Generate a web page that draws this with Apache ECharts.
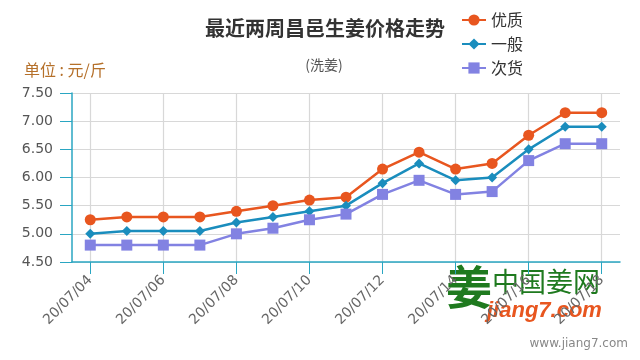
<!DOCTYPE html>
<html><head><meta charset="utf-8">
<script src="https://cdn.jsdelivr.net/npm/echarts@6/dist/echarts.min.js"></script>
<style>html,body{margin:0;padding:0;background:#fff}#c{width:640px;height:360px}</style>
</head><body><div id="c"></div>
<script>
var categories = ['20/07/04','20/07/05','20/07/06','20/07/07','20/07/08','20/07/09','20/07/10','20/07/11','20/07/12','20/07/13','20/07/14','20/07/15','20/07/16','20/07/17','20/07/18'];
var seriesNames = ['优质','一般','次货'];
var premium = [5.25,5.3,5.3,5.3,5.4,5.5,5.6,5.65,6.15,6.45,6.15,6.25,6.75,7.15,7.15];
var normal  = [5.0,5.05,5.05,5.05,5.2,5.3,5.4,5.5,5.9,6.25,5.95,6.0,6.5,6.9,6.9];
var inferior= [4.8,4.8,4.8,4.8,5.0,5.1,5.25,5.35,5.7,5.95,5.7,5.75,6.3,6.6,6.6];
var yMin = 4.5, yMax = 7.5, yStep = 0.5;

var teal = '#2aa6c2';
var chart = echarts.init(document.getElementById('c'), null, {renderer:'canvas'});
function mk(name, data, color, symbol, size){
  return {name:name, type:'line', data:data, symbol:symbol, symbolSize:size,
    lineStyle:{color:color, width:2.5}, itemStyle:{color:color}, animation:false};
}
chart.setOption({
  animation:false,
  title:[
    {text:'最近两周昌邑生姜价格走势', left:320, top:13, textAlign:'center',
     textStyle:{fontSize:20, fontWeight:'bold', color:'#333', fontFamily:'Noto Sans CJK SC'}},
    {text:'(洗姜)', left:319, top:53, textAlign:'center',
     textStyle:{fontSize:14, fontWeight:'normal', color:'#555', fontFamily:'Noto Sans CJK SC'}},
    {text:'单位 : 元/斤', left:19, top:57,
     textStyle:{fontSize:16, fontWeight:'normal', color:'#b5702a', fontFamily:'Noto Sans CJK SC'}}
  ],
  legend:{orient:'vertical', left:456, top:7, itemWidth:24, itemHeight:14, itemGap:8,
    textStyle:{fontSize:16, color:'#333', fontFamily:'Noto Sans CJK SC'}, data:seriesNames},
  grid:{left:72, right:20, top:93, bottom:98},
  xAxis:{type:'category', data:categories, boundaryGap:true,
    axisLine:{lineStyle:{color:teal, width:1.5}},
    axisTick:{show:true, interval:1, alignWithLabel:true, length:12, lineStyle:{color:teal}},
    axisLabel:{interval:1, rotate:45, fontSize:14, color:'#666', fontFamily:'DejaVu Sans', margin:16},
    splitLine:{show:true, interval:1, alignWithLabel:true, lineStyle:{color:'#d8d8d8', width:1.2}}},
  yAxis:{type:'value', min:yMin, max:yMax, interval:yStep,
    axisLine:{show:true, lineStyle:{color:teal, width:1.5}},
    axisTick:{show:true, length:12, lineStyle:{color:teal}},
    axisLabel:{fontSize:14, color:'#555', fontFamily:'DejaVu Sans', margin:19,
      formatter:function(v){return v.toFixed(2);}},
    splitLine:{show:true, lineStyle:{color:'#d8d8d8', width:1.2}}},
  series:[
    mk(seriesNames[0], premium, '#e8561f', 'circle', 11),
    mk(seriesNames[1], normal, '#1a8dbd', 'diamond', 10),
    mk(seriesNames[2], inferior, '#8282e2', 'rect', 11)
  ],
  graphic:[
    {type:'text', left:446, top:264, style:{text:'姜', fontSize:46, fontWeight:'bold', fill:'#1f7a1f', fontFamily:'Noto Sans CJK SC'}, silent:true},
    {type:'text', left:492, top:268, style:{text:'中国姜网', fontSize:27, fill:'#1f7a1f', fontFamily:'Noto Sans CJK SC'}, silent:true},
    {type:'text', left:487, top:300, style:{text:'jiang7.com', fontSize:22, fontWeight:'bold', fontStyle:'italic', fill:'#e8561f', fontFamily:'Liberation Sans'}, silent:true},
    {type:'text', right:12, top:338, style:{text:'www.jiang7.com', fontSize:12, fill:'#888', fontFamily:'DejaVu Sans'}, silent:true}
  ]
});
</script></body></html>
